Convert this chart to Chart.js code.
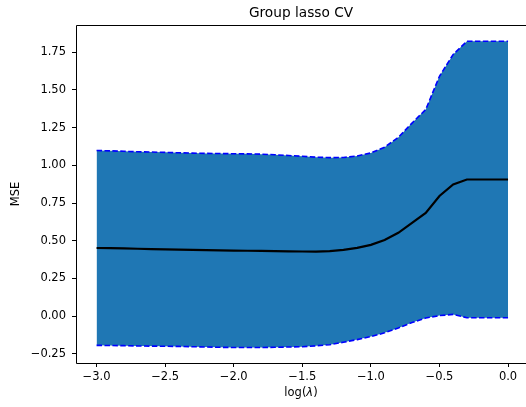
<!DOCTYPE html>
<html lang="en">
<head>
    <meta charset="UTF-8">
    <title>Group lasso CV</title>
    <script src="https://cdn.jsdelivr.net/npm/chart.js"></script>
    <style>
        html, body { margin: 0; padding: 0; background: #fff; }
        #wrap { width: 526px; height: 407px; }
    </style>
</head>
<body>
    <div id="wrap"><canvas id="cvChart"></canvas></div>

    <script>
        // log(lambda) grid
        const logLambda = [-3.0, -2.9, -2.8, -2.7, -2.6, -2.5, -2.4, -2.3, -2.2, -2.1,
                           -2.0, -1.9, -1.8, -1.7, -1.6, -1.5, -1.4, -1.3, -1.2, -1.1,
                           -1.0, -0.9, -0.8, -0.7, -0.6, -0.5, -0.4, -0.3, -0.2, -0.1, 0.0];

        // mean CV error
        const mseMean = [0.452, 0.451, 0.449, 0.447, 0.445, 0.443, 0.442, 0.440, 0.438, 0.436,
                         0.435, 0.434, 0.433, 0.432, 0.430, 0.429, 0.428, 0.431, 0.440, 0.453,
                         0.473, 0.505, 0.553, 0.619, 0.684, 0.797, 0.873, 0.906, 0.906, 0.906, 0.906];

        // upper band (dashed)
        const mseUpper = [1.098, 1.096, 1.093, 1.090, 1.088, 1.086, 1.083, 1.081, 1.079, 1.078,
                          1.077, 1.076, 1.074, 1.070, 1.065, 1.060, 1.054, 1.051, 1.052, 1.062,
                          1.082, 1.120, 1.185, 1.280, 1.370, 1.590, 1.735, 1.822, 1.822, 1.822, 1.822];

        // lower band (dashed)
        const mseLower = [-0.193, -0.194, -0.195, -0.197, -0.198, -0.199, -0.200, -0.202, -0.204, -0.206,
                          -0.207, -0.207, -0.207, -0.206, -0.204, -0.202, -0.196, -0.189, -0.172, -0.155,
                          -0.135, -0.110, -0.078, -0.042, -0.012, 0.004, 0.012, -0.010, -0.010, -0.010, -0.010];

        // tick labels
        const xTicks = [-3.0, -2.5, -2.0, -1.5, -1.0, -0.5, 0.0];
        const yTicks = [-0.25, 0.00, 0.25, 0.50, 0.75, 1.00, 1.25, 1.50, 1.75];

        const toPoints = ys => logLambda.map((x, i) => ({ x: x, y: ys[i] }));
        const fmt = (v, d) => v.toFixed(d).replace('-', '\u2212');

        const FONT = 'DejaVu Sans';

        // рамка (левая, верхняя, нижняя) и подпись оси x с курсивной λ
        const framePlugin = {
            id: 'frame',
            afterDatasetsDraw(chart) {
                const a = chart.chartArea;
                const c = chart.ctx;
                const l = Math.round(a.left) + 0.5;
                const t = Math.round(a.top) + 0.5;
                const b = Math.round(a.bottom) + 0.5;
                c.save();
                c.strokeStyle = '#000';
                c.lineWidth = 1;
                c.beginPath();
                c.moveTo(a.right + 2, t);
                c.lineTo(l, t);
                c.lineTo(l, b);
                c.lineTo(a.right + 2, b);
                c.stroke();
                c.restore();
            },
            afterDraw(chart) {
                const a = chart.chartArea;
                const c = chart.ctx;
                const parts = [
                    { text: 'log(', font: '11.5px "' + FONT + '"' },
                    { text: '\u03bb', font: 'italic 11.5px "' + FONT + '"' },
                    { text: ')', font: '11.5px "' + FONT + '"' }
                ];
                c.save();
                c.fillStyle = '#000';
                c.textBaseline = 'middle';
                c.textAlign = 'left';
                let total = 0;
                parts.forEach(p => { c.font = p.font; p.w = c.measureText(p.text).width; total += p.w; });
                let x = (a.left + 526) / 2 - total / 2;
                parts.forEach(p => { c.font = p.font; c.fillText(p.text, x, 393); x += p.w; });
                c.restore();
            }
        };

        const ctx = document.getElementById('cvChart').getContext('2d');
        const cvChart = new Chart(ctx, {
            type: 'line',
            data: {
                datasets: [
                    {
                        label: 'mean',
                        data: toPoints(mseMean),
                        borderColor: '#000',
                        borderWidth: 2.2,
                        pointRadius: 0,
                        tension: 0,
                        fill: false
                    },
                    {
                        label: 'lower',
                        data: toPoints(mseLower),
                        borderColor: '#0000ff',
                        borderWidth: 1.6,
                        borderDash: [5.5, 2.4],
                        pointRadius: 0,
                        tension: 0,
                        fill: false
                    },
                    {
                        label: 'upper',
                        data: toPoints(mseUpper),
                        borderColor: '#0000ff',
                        borderWidth: 1.6,
                        borderDash: [5.5, 2.4],
                        pointRadius: 0,
                        tension: 0,
                        backgroundColor: '#1f77b4',
                        fill: '-1'
                    }
                ]
            },
            options: {
                responsive: true,
                maintainAspectRatio: false,
                animation: false,
                layout: { padding: { top: 0, right: 0, left: 0, bottom: 0 } },
                plugins: {
                    legend: { display: false },
                    tooltip: { enabled: false },
                    title: {
                        display: true,
                        text: 'Group lasso CV',
                        fullSize: false,
                        color: '#000',
                        font: { family: FONT, size: 13.7, weight: 'normal' },
                        padding: { top: 5, bottom: 3.56 }
                    }
                },
                scales: {
                    x: {
                        type: 'linear',
                        min: -3.15,
                        max: 0.131,
                        afterFit: s => { s.height = 44; },
                        afterBuildTicks: s => { s.ticks = xTicks.map(v => ({ value: v })); },
                        border: { display: false },
                        grid: { drawOnChartArea: false, drawTicks: true, tickLength: 4, color: '#000' },
                        ticks: {
                            color: '#000',
                            padding: 3,
                            maxRotation: 0,
                            font: { family: FONT, size: 11.5 },
                            callback: v => fmt(v, 1)
                        }
                    },
                    y: {
                        type: 'linear',
                        min: -0.31,
                        max: 1.93,
                        afterFit: s => { s.width = 76; },
                        afterBuildTicks: s => { s.ticks = yTicks.map(v => ({ value: v })); },
                        border: { display: false },
                        grid: { drawOnChartArea: false, drawTicks: true, tickLength: 4, color: '#000' },
                        ticks: {
                            color: '#000',
                            padding: 6,
                            font: { family: FONT, size: 11.5 },
                            callback: v => fmt(v, 2)
                        },
                        title: {
                            display: true,
                            text: 'MSE',
                            color: '#000',
                            font: { family: FONT, size: 11.5 },
                            padding: { top: 9, bottom: 0 }
                        }
                    }
                }
            },
            plugins: [framePlugin]
        });
    </script>
</body>
</html>
